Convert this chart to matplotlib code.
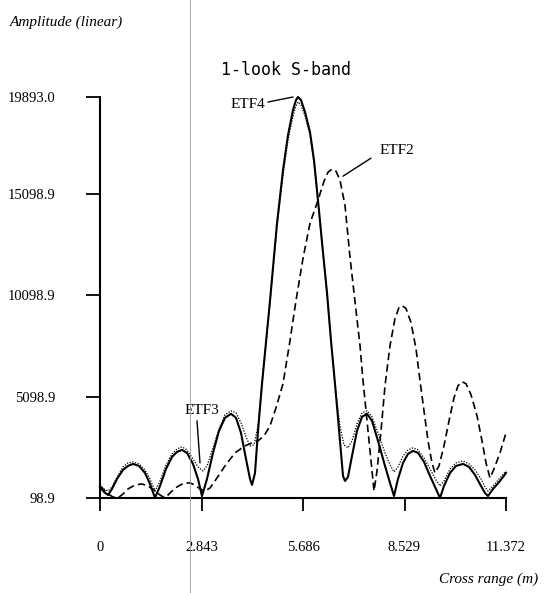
import numpy as np
import matplotlib
matplotlib.use("Agg")
import matplotlib.pyplot as plt
from matplotlib.lines import Line2D

# ETF4 (solid)
x_etf4 = [0, 0.112, 0.224, 0.336, 0.476, 0.644, 0.784, 0.924, 1.092, 1.260, 1.401, 1.541,
          1.681, 1.849, 2.017, 2.157, 2.297, 2.437, 2.605, 2.745, 2.857, 2.997, 3.165, 3.333,
          3.501, 3.669, 3.809, 3.949, 4.089, 4.202, 4.258, 4.342, 4.426, 4.538, 4.762, 4.958,
          5.126, 5.266, 5.406, 5.490, 5.546, 5.630, 5.742, 5.882, 5.994, 6.106, 6.246, 6.358,
          6.470, 6.582, 6.722, 6.806, 6.862, 6.946, 7.059, 7.199, 7.339, 7.479, 7.619, 7.787,
          7.983, 8.123, 8.235, 8.347, 8.487, 8.627, 8.767, 8.907, 9.075, 9.243, 9.411, 9.523,
          9.635, 9.804, 9.972, 10.168, 10.336, 10.504, 10.672, 10.784, 10.868, 11.008, 11.204,
          11.372]
y_etf4 = [643, 396, 247, 544, 1039, 1485, 1682, 1781, 1682, 1336, 792, 99,
          693, 1534, 2128, 2375, 2474, 2326, 1781, 1039, 198, 1039, 2326, 3414,
          4058, 4256, 4058, 3315, 2029, 1039, 742, 1336, 3414, 5740, 9847, 13658,
          16281, 18012, 19250, 19744, 19893, 19744, 19151, 18161, 16775, 14796, 12223, 10243,
          7868, 5740, 2920, 1188, 940, 1138, 2177, 3414, 4107, 4256, 3909, 2920,
          1682, 841, 198, 1039, 1831, 2276, 2425, 2326, 1880, 1188, 544, 99,
          693, 1336, 1682, 1781, 1633, 1237, 693, 346, 198, 544, 940,
          1336]

# ETF3 (dotted)
x_etf3 = [0, 0.112, 0.224, 0.336, 0.476, 0.644, 0.784, 0.924, 1.092, 1.260, 1.401, 1.541,
          1.681, 1.849, 2.017, 2.157, 2.297, 2.437, 2.605, 2.745, 2.885, 2.997, 3.165, 3.333,
          3.501, 3.669, 3.809, 3.949, 4.089, 4.202, 4.314, 4.426, 4.538, 4.762, 4.958,
          5.126, 5.266, 5.406, 5.490, 5.546, 5.630, 5.742, 5.882, 5.994, 6.106, 6.246, 6.358,
          6.470, 6.582, 6.722, 6.834, 6.946, 7.059, 7.199, 7.339, 7.479, 7.619, 7.787,
          7.983, 8.123, 8.235, 8.347, 8.487, 8.627, 8.767, 8.907, 9.075, 9.243, 9.411, 9.523,
          9.635, 9.804, 9.972, 10.168, 10.336, 10.504, 10.672, 10.784, 10.868, 11.008, 11.204,
          11.372]
y_etf3 = [742, 544, 445, 643, 1138, 1633, 1831, 1880, 1781, 1485, 1039, 445,
          940, 1732, 2276, 2524, 2623, 2474, 2029, 1633, 1435, 1682, 2573, 3513,
          4206, 4404, 4305, 3810, 3117, 2672, 2722, 3662, 5740, 9748, 13510,
          16033, 17765, 18953, 19448, 19646, 19497, 18953, 18012, 16627, 14697, 12124, 10144,
          7868, 5641, 3662, 2722, 2573, 2920, 3761, 4305, 4404, 4107, 3315,
          2326, 1732, 1386, 1633, 2177, 2474, 2573, 2474, 2078, 1534, 990, 693,
          940, 1534, 1831, 1930, 1781, 1485, 1039, 643, 445, 693, 1089,
          1435]

# ETF2 (dashed)
x_etf2 = [0, 0.112, 0.224, 0.364, 0.504, 0.644, 0.784, 0.980, 1.176, 1.344, 1.513, 1.681,
          1.821, 1.989, 2.157, 2.353, 2.521, 2.661, 2.801, 2.941, 3.081, 3.277, 3.501, 3.781,
          4.061, 4.258, 4.426, 4.594, 4.762, 4.930, 5.126, 5.322, 5.490, 5.686, 5.882, 6.106,
          6.274, 6.386, 6.498, 6.610, 6.722, 6.862, 7.003, 7.171, 7.283, 7.367, 7.507, 7.619,
          7.675, 7.759, 7.871, 7.983, 8.123, 8.263, 8.375, 8.459, 8.571, 8.711, 8.851, 8.963,
          9.187, 9.299, 9.383, 9.495, 9.635, 9.776, 9.916, 10.028, 10.140, 10.252, 10.392,
          10.560, 10.700, 10.812, 10.924, 11.036, 11.204, 11.372]
y_etf2 = [693, 495, 297, 148, 99, 297, 544, 742, 792, 693, 495, 247,
          99, 396, 643, 841, 841, 742, 544, 445, 594, 1089, 1682, 2326,
          2672, 2821, 2920, 3167, 3662, 4553, 5740, 7868, 9847, 11926, 13658, 14796,
          15736, 16182, 16330, 16231, 15786, 14549, 11975, 9353, 7621, 5889, 3414, 1435,
          445, 1435, 3414, 5641, 7621, 8957, 9501, 9600, 9452, 8759, 7472, 5889,
          2920, 1831, 1336, 1682, 2672, 3909, 5047, 5641, 5839, 5740, 5196,
          4157, 2920, 1831, 1089, 1534, 2326, 3315]

xticks = [0, 2.843, 5.686, 8.529, 11.372]
xtick_labels = ["0", "2.843", "5.686", "8.529", "11.372"]
yticks = [98.9, 5098.9, 10098.9, 15098.9, 19893.0]
ytick_labels = ["98.9", "5098.9", "10098.9", "15098.9", "19893.0"]

W, H = 554, 593
fig = plt.figure(figsize=(W / 100, H / 100), dpi=100)
ax = fig.add_axes([100 / W, 1 - 498 / H, 406 / W, 401 / H])

ax.plot(x_etf4, y_etf4, color="black", lw=1.5, clip_on=False)
ax.plot(x_etf3, y_etf3, color="black", lw=0.9, ls=(0, (1, 1.2)), clip_on=False)
ax.plot(x_etf2, y_etf2, color="black", lw=1.2, ls=(0, (4.5, 2.5)), clip_on=False)

ax.set_xlim(0, 11.372)
ax.set_ylim(98.9, 19893.0)
ax.set_xticks(xticks)
ax.set_xticklabels(xtick_labels)
ax.set_yticks(yticks)
ax.set_yticklabels(ytick_labels)

serif = "Liberation Serif"
for lab in ax.get_xticklabels() + ax.get_yticklabels():
    lab.set_fontfamily(serif)
    lab.set_fontsize(10.5)
ax.tick_params(axis="x", direction="out", length=9, width=1.3, pad=22)
ax.tick_params(axis="y", direction="out", length=10, width=1.3, pad=22)

for s in ["top", "right"]:
    ax.spines[s].set_visible(False)
ax.spines["left"].set_linewidth(1.5)
ax.spines["bottom"].set_linewidth(1.5)

# labels
fig.text(10 / W, 1 - 22 / H, "Amplitude (linear)", family=serif, style="italic",
         fontsize=11, ha="left", va="center")
fig.text(538 / W, 1 - 579 / H, "Cross range (m)", family=serif, style="italic",
         fontsize=11, ha="right", va="center")
fig.text(286 / W, 1 - 70 / H, "1-look S-band", family="DejaVu Sans Mono", fontsize=12,
         ha="center", va="center")

# curve annotations
ax.text(4.145, 19546, "ETF4", family=serif, fontsize=11, ha="center", va="center")
ax.annotate("", xy=(5.406, 19893), xytext=(4.706, 19645), annotation_clip=False,
            arrowprops=dict(arrowstyle="-", color="black", lw=1, shrinkA=0, shrinkB=0))
ax.text(8.319, 17270, "ETF2", family=serif, fontsize=11, ha="center", va="center")
ax.annotate("", xy=(6.806, 15984), xytext=(7.591, 16875), annotation_clip=False,
            arrowprops=dict(arrowstyle="-", color="black", lw=1, shrinkA=0, shrinkB=0))
ax.text(2.857, 4404, "ETF3", family=serif, fontsize=11, ha="center", va="center")
ax.annotate("", xy=(2.801, 1831), xytext=(2.717, 3909), annotation_clip=False,
            arrowprops=dict(arrowstyle="-", color="black", lw=1, shrinkA=0, shrinkB=0))

# scanner streak in the original
fig.add_artist(Line2D([190 / W, 190 / W], [0, 1], color="#999999", lw=0.6))

fig.savefig("out.png", dpi=100)
